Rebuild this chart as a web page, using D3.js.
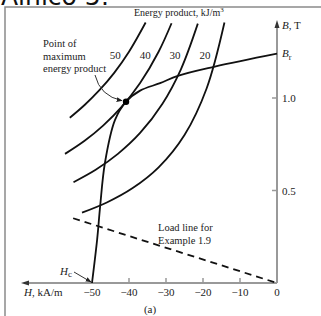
<!DOCTYPE html>
<html>
<head>
<meta charset="utf-8">
<script src="https://cdn.jsdelivr.net/npm/d3@7"></script>
<style>
  body { margin: 0; background: #fff; }
  svg { display: block; }
  text { font-family: "Liberation Serif", "Times New Roman", serif; fill: #222; }
</style>
</head>
<body>
<div id="app"></div>
<script>
// values (H in kA/m, B in T)
const hTicks = [-50, -40, -30, -20, -10, 0];
const bTicks = [0.5, 1.0];
const energyLabels = [50, 40, 30, 20];
const energyCurves = [
  [[-56, 0.893], [-52, 0.962], [-48, 1.042], [-44, 1.136], [-40, 1.25], [-35.5, 1.408]],
  [[-57.3, 0.698], [-52, 0.769], [-47, 0.851], [-42, 0.952], [-37, 1.081], [-32, 1.25], [-28.5, 1.404]],
  [[-55, 0.545], [-49, 0.612], [-43, 0.698], [-37, 0.811], [-31, 0.968], [-26, 1.154], [-21.4, 1.402]],
  [[-52.7, 0.38], [-46, 0.435], [-39, 0.513], [-32, 0.625], [-25, 0.8], [-19, 1.053], [-14.2, 1.408]]
];
const demag = [[-50, 0], [-48.6, 0.237], [-47.8, 0.414], [-46.5, 0.65], [-43.8, 0.88],
  [-40.8, 0.98], [-37, 1.04], [-31.6, 1.08], [-26.8, 1.12], [-16.8, 1.17], [0, 1.24]];
const maxPoint = [-40.8, 0.98];
const loadLine = [[-55.1, 0.35], [0, 0]];
const br = 1.24;

const width = 321, height = 316;

const svg = d3.select('#app').append('svg')
  .attr('width', width)
  .attr('height', height);

const x = d3.scaleLinear().domain([-50, 0]).range([92, 277]);
const y = d3.scaleLinear().domain([0, 1.0]).range([283, 98]);

const line = d3.line().x(d => x(d[0])).y(d => y(d[1])).curve(d3.curveCatmullRom);

svg.append('defs').append('marker')
  .attr('id', 'ah')
  .attr('viewBox', '0 0 10 10')
  .attr('refX', 9).attr('refY', 5)
  .attr('markerWidth', 6).attr('markerHeight', 6)
  .attr('orient', 'auto')
  .append('path').attr('d', 'M0,1 L10,5 L0,9 Z').attr('fill', '#222');

// cut-off heading and frame
svg.append('text')
  .attr('x', 1).attr('y', 5)
  .style('font-family', '"DejaVu Sans", sans-serif')
  .style('font-size', '25px')
  .style('fill', '#111')
  .text('Alnico 5:');

svg.append('path')
  .attr('d', `M5,${height} V7 H${width}`)
  .attr('fill', 'none')
  .attr('stroke', '#8a8a8a')
  .attr('stroke-width', 1.5);

// axes
const axisColor = '#999';
svg.append('line')
  .attr('x1', 27).attr('x2', x(0))
  .attr('y1', y(0)).attr('y2', y(0))
  .attr('stroke', axisColor).attr('stroke-width', 2);
svg.append('path')
  .attr('d', `M21,${y(0)} l8,-2.5 v5 Z`).attr('fill', '#333');
svg.append('line')
  .attr('x1', x(0)).attr('x2', x(0))
  .attr('y1', y(0)).attr('y2', 26)
  .attr('stroke', axisColor).attr('stroke-width', 2);
svg.append('path')
  .attr('d', `M${x(0)},20 l-2.5,8 h5 Z`).attr('fill', '#333');

svg.selectAll('.xt').data(hTicks.filter(d => d !== 0 && d !== -50)).enter().append('line')
  .attr('x1', d => x(d)).attr('x2', d => x(d))
  .attr('y1', y(0) - 5).attr('y2', y(0))
  .attr('stroke', axisColor).attr('stroke-width', 1.5);
svg.selectAll('.xl').data(hTicks).enter().append('text')
  .attr('x', d => x(d)).attr('y', y(0) + 13)
  .attr('text-anchor', 'middle')
  .style('font-size', '11px')
  .text(d => d === 0 ? '0' : '\u2212' + Math.abs(d));

svg.selectAll('.yt').data(bTicks).enter().append('line')
  .attr('x1', x(0) - 5).attr('x2', x(0))
  .attr('y1', d => y(d)).attr('y2', d => y(d))
  .attr('stroke', axisColor).attr('stroke-width', 1.5);
svg.selectAll('.yl').data(bTicks).enter().append('text')
  .attr('x', x(0) + 5).attr('y', d => y(d) + 4)
  .style('font-size', '11px')
  .text(d => d.toFixed(1));

const bLab = svg.append('text').attr('x', x(0) + 5).attr('y', 29).style('font-size', '11px');
bLab.append('tspan').style('font-style', 'italic').text('B');
bLab.append('tspan').text(', T');

const brLab = svg.append('text').attr('x', x(0) + 5).attr('y', y(br) + 3).style('font-size', '11px');
brLab.append('tspan').style('font-style', 'italic').text('B');
brLab.append('tspan').attr('dy', 3).style('font-size', '8px').text('r');

const hLab = svg.append('text').attr('x', 24).attr('y', y(0) + 13).style('font-size', '11px');
hLab.append('tspan').style('font-style', 'italic').text('H');
hLab.append('tspan').text(', kA/m');

svg.append('text').attr('x', 150).attr('y', 313).attr('text-anchor', 'middle')
  .style('font-size', '11px').text('(a)');

// energy product curves
svg.selectAll('.ep').data(energyCurves).enter().append('path')
  .attr('d', line)
  .attr('fill', 'none').attr('stroke', '#111').attr('stroke-width', 1.8);

// label sits just left of its curve, near the top
const labelB = 1.235;
svg.selectAll('.epl').data(energyLabels).enter().append('text')
  .attr('x', d => x(-d / labelB) - 12).attr('y', y(labelB) + 4)
  .attr('text-anchor', 'middle')
  .style('font-size', '11px')
  .text(d => d);

const eTitle = svg.append('text').attr('x', 134).attr('y', 16).style('font-size', '10px');
eTitle.append('tspan').text('Energy product, kJ/m');
eTitle.append('tspan').attr('dy', -4).style('font-size', '7px').text('3');

// demagnetization curve, load line
svg.append('path').datum(demag)
  .attr('d', line)
  .attr('fill', 'none').attr('stroke', '#111').attr('stroke-width', 1.8);

svg.append('path').datum(loadLine)
  .attr('d', d3.line().x(d => x(d[0])).y(d => y(d[1])))
  .attr('fill', 'none').attr('stroke', '#111').attr('stroke-width', 1.8)
  .attr('stroke-dasharray', '7,5');

svg.append('circle')
  .attr('cx', x(maxPoint[0])).attr('cy', y(maxPoint[1])).attr('r', 3.2)
  .attr('fill', '#000');

// annotations
const ann = svg.append('text').attr('x', 43).attr('y', 47).style('font-size', '10.5px');
['Point of', 'maximum', 'energy product'].forEach((t, i) =>
  ann.append('tspan').attr('x', 43).attr('dy', i ? 12.5 : 0).text(t));

svg.append('path')
  .attr('d', `M95,75 Q100,96 ${x(maxPoint[0]) - 4},${y(maxPoint[1]) - 1}`)
  .attr('fill', 'none').attr('stroke', '#333').attr('stroke-width', 1)
  .attr('marker-end', 'url(#ah)');

const load = svg.append('text').attr('x', 158).attr('y', 231).style('font-size', '10.5px');
['Load line for', 'Example 1.9'].forEach((t, i) =>
  load.append('tspan').attr('x', 158).attr('dy', i ? 12.5 : 0).text(t));

const hc = svg.append('text').attr('x', 60).attr('y', 275).style('font-size', '11px');
hc.append('tspan').style('font-style', 'italic').text('H');
hc.append('tspan').attr('dy', 2).style('font-size', '9px').text('c');

svg.append('path')
  .attr('d', `M74,272 L${x(-50) - 1},${y(0) - 1}`)
  .attr('fill', 'none').attr('stroke', '#333').attr('stroke-width', 1)
  .attr('marker-end', 'url(#ah)');
</script>
</body>
</html>
